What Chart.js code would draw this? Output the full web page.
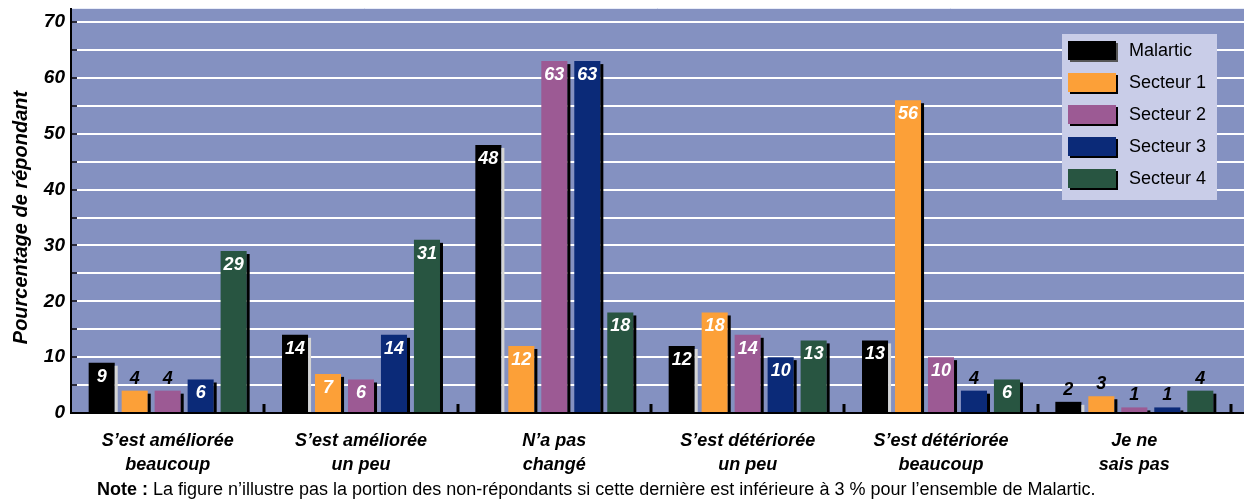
<!DOCTYPE html>
<html lang="fr">
<head>
<meta charset="UTF-8">
<title>Perception du paysage</title>
<script src="https://cdn.jsdelivr.net/npm/chart.js@4/dist/chart.umd.min.js"></script>
<style>
	body { margin:0; background:#fff; }
	#wrap { position:relative; width:1244px; height:501px; }
</style>
</head>
<body>
<div id="wrap"><canvas id="chart"></canvas></div>
<script>

	// categories (two lines each)
	var categories=[
		["S’est améliorée","beaucoup"],
		["S’est améliorée","un peu"],
		["N’a pas","changé"],
		["S’est détériorée","un peu"],
		["S’est détériorée","beaucoup"],
		["Je ne","sais pas"]
	];

	var seriesNames=["Malartic","Secteur 1","Secteur 2","Secteur 3","Secteur 4"];
	var seriesColors=["#000000","#fca038","#9c5a94","#0b2a78","#285541"];

	var malartic=[9,14,48,12,13,2];
	var secteur1=[4,7,12,18,56,3];
	var secteur2=[4,6,63,14,10,1];
	var secteur3=[6,14,63,10,4,1];
	var secteur4=[29,31,18,13,6,4];

	var yMax=70, yStep=10, gridStep=5;

	var yTitle="Pourcentage de répondant";
	var noteBold="Note :";
	var noteText=" La figure n’illustre pas la portion des non-répondants si cette dernière est inférieure à 3 % pour l’ensemble de Malartic.";

	var FONT="'Liberation Sans', Arial, sans-serif";
	var PLOT_BG="#8491c1";

	var values=[malartic,secteur1,secteur2,secteur3,secteur4];

	var decor={
		id:"decor",
		beforeDatasetsDraw:function(chart){
			var ctx=chart.ctx, a=chart.chartArea, y=chart.scales.y;
			ctx.save();
			ctx.fillStyle=PLOT_BG;
			ctx.fillRect(a.left,8,chart.width-a.left,a.bottom-8);
			ctx.strokeStyle="#e8ecf8";
			ctx.lineWidth=1;
			ctx.beginPath();
			ctx.moveTo(a.left,8.5); ctx.lineTo(chart.width,8.5);
			ctx.stroke();
			// grid every 5
			for(var v=gridStep; v<=yMax; v+=gridStep) {
				var py=Math.round(y.getPixelForValue(v));
				ctx.strokeStyle="#ffffff";
				ctx.lineWidth=2;
				ctx.beginPath();
				ctx.moveTo(a.left,py); ctx.lineTo(chart.width,py);
				ctx.stroke();
				ctx.strokeStyle="#2a2a3a";
				ctx.beginPath();
				ctx.moveTo(a.left,py); ctx.lineTo(a.left+6,py);
				ctx.stroke();
			}
			ctx.restore();
		},
		afterDatasetsDraw:function(chart){
			var ctx=chart.ctx, a=chart.chartArea, x=chart.scales.x;
			ctx.save();
			// bar shadows + labels
			chart.data.datasets.forEach(function(ds,d){
				chart.getDatasetMeta(d).data.forEach(function(bar,i){
					var p=bar.getProps(["x","y","width","base"],true);
					var right=p.x+p.width/2;
					ctx.fillStyle= d===0 ? "#d4d4d4" : "#000";
					ctx.fillRect(right,p.y+3,3,p.base-p.y-3);
				});
			});
			chart.data.datasets.forEach(function(ds,d){
				chart.getDatasetMeta(d).data.forEach(function(bar,i){
					var p=bar.getProps(["x","y","width","base"],true);
					var v=ds.data[i];
					ctx.font="italic bold 18px "+FONT;
					ctx.textAlign="center";
					ctx.textBaseline="middle";
					if(v>=5) {
						ctx.fillStyle="#fff";
						ctx.fillText(v,p.x,p.y+14);
					} else {
						ctx.fillStyle="#000";
						ctx.fillText(v,p.x,p.y-12);
					}
				});
			});
			// axes
			ctx.strokeStyle="#000";
			ctx.lineWidth=2;
			ctx.beginPath();
			ctx.moveTo(a.left,8); ctx.lineTo(a.left,a.bottom+1);
			ctx.moveTo(a.left,a.bottom); ctx.lineTo(chart.width,a.bottom);
			ctx.stroke();
			// category boundary ticks
			ctx.lineWidth=3;
			for(var i=0;i<categories.length;i++) {
				var bx=Math.round(x.getPixelForValue(i+0.5));
				ctx.beginPath();
				ctx.moveTo(bx,a.bottom); ctx.lineTo(bx,a.bottom-9);
				ctx.stroke();
			}
			ctx.restore();
		},
		afterDraw:function(chart){
			var ctx=chart.ctx;
			ctx.save();
			// legend box
			var lx=1062, ly=34;
			ctx.fillStyle="#c9cde8";
			ctx.fillRect(lx,ly,155,166);
			seriesNames.forEach(function(name,i){
				var sy=ly+7+32*i;
				ctx.fillStyle= i===0 ? "#555" : "#000";
				ctx.fillRect(lx+8,sy+2,48,19);
				ctx.fillStyle=seriesColors[i];
				ctx.fillRect(lx+6,sy,48,19);
				ctx.fillStyle="#000";
				ctx.font="18px "+FONT;
				ctx.textAlign="left";
				ctx.textBaseline="middle";
				ctx.fillText(name,lx+67,sy+10);
			});
			// note
			ctx.textBaseline="middle";
			ctx.textAlign="left";
			ctx.font="bold 18px "+FONT;
			ctx.fillText(noteBold,97,490);
			var w=ctx.measureText(noteBold).width;
			ctx.font="18px "+FONT;
			ctx.fillText(noteText,97+w,490);
			ctx.restore();
		}
	};

	new Chart(document.getElementById("chart"),{
		type:"bar",
		data:{
			labels:categories,
			datasets:seriesNames.map(function(n,i){
				return {
					label:n,
					data:values[i],
					backgroundColor:seriesColors[i],
					borderWidth:0,
					categoryPercentage:0.853,
					barPercentage:0.79
				};
			})
		},
		options:{
			responsive:true,
			maintainAspectRatio:false,
			animation:false,
			layout:{padding:{top:22,right:13,bottom:0,left:0}},
			plugins:{legend:{display:false},tooltip:{enabled:false}},
			scales:{
				x:{
					grid:{display:false,drawTicks:false},
					border:{display:false},
					ticks:{
						color:"#000",
						autoSkip:false,
						maxRotation:0,
						padding:16,
						font:{family:FONT,size:18,style:"italic",weight:"bold",lineHeight:1.33}
					},
					afterFit:function(s){ s.height=88; }
				},
				y:{
					min:0,
					max:yMax,
					grid:{display:false,drawTicks:false},
					border:{display:false},
					ticks:{
						stepSize:yStep,
						color:"#000",
						padding:6,
						font:{family:FONT,size:19,style:"italic",weight:"bold"}
					},
					title:{
						display:true,
						text:yTitle,
						color:"#000",
						padding:{top:9,bottom:0},
						font:{family:FONT,size:20,style:"italic",weight:"bold"}
					},
					afterFit:function(s){ s.width=71; }
				}
			}
		},
		plugins:[decor]
	});

</script>
</body>
</html>
